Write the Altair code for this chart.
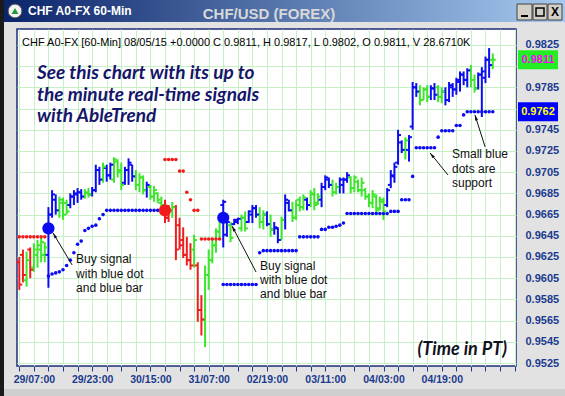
import math
import altair as alt
import pandas as pd

# ---------------------------------------------------------------
# CHF/USD hourly bars (AbleTrend colouring) with stop dots
# ---------------------------------------------------------------
BLUE = "#0c0cf2"
GREEN = "#3ce62a"
RED = "#f21c1c"
NAVY = "#1b3a8e"
GRID = "#c6f0c6"
PANEL = "#e2e2e2"
TREND_COLOURS = {"B": BLUE, "G": GREEN, "R": RED}
SIDE_COLOURS = {"buy": BLUE, "sell": RED}

bar_high = [
    0.9625, 0.9632, 0.9630, 0.9634, 0.9638, 0.9641, 0.9644, 0.9639, 0.9672, 0.9688,
    0.9684, 0.9682, 0.9681, 0.9679, 0.9685, 0.9688, 0.9690, 0.9689, 0.9689, 0.9690,
    0.9691, 0.9712, 0.9710, 0.9714, 0.9712, 0.9714, 0.9719, 0.9717, 0.9714, 0.9710,
    0.9718, 0.9712, 0.9707, 0.9704, 0.9702, 0.9696, 0.9693, 0.9692, 0.9686, 0.9682,
    0.9679, 0.9674, 0.9677, 0.9674, 0.9662, 0.9653, 0.9644, 0.9638, 0.9646, 0.9620,
    0.9589, 0.9617, 0.9632, 0.9641, 0.9652, 0.9662, 0.9679, 0.9660, 0.9658, 0.9661,
    0.9662, 0.9665, 0.9668, 0.9669, 0.9674, 0.9674, 0.9672, 0.9669, 0.9668, 0.9665,
    0.9658, 0.9653, 0.9663, 0.9684, 0.9679, 0.9677, 0.9679, 0.9682, 0.9684, 0.9681,
    0.9688, 0.9690, 0.9685, 0.9695, 0.9702, 0.9700, 0.9698, 0.9695, 0.9700, 0.9700,
    0.9705, 0.9701, 0.9702, 0.9698, 0.9700, 0.9690, 0.9685, 0.9688, 0.9684, 0.9682,
    0.9681, 0.9690, 0.9707, 0.9714, 0.9745, 0.9735, 0.9738, 0.9740, 0.9790, 0.9789,
    0.9787, 0.9785, 0.9787, 0.9787, 0.9789, 0.9787, 0.9785, 0.9785, 0.9790, 0.9789,
    0.9794, 0.9800, 0.9800, 0.9803, 0.9806, 0.9797, 0.9799, 0.9804, 0.9814, 0.9822,
    0.9817,
]
bar_low = [
    0.9594, 0.9601, 0.9597, 0.9605, 0.9611, 0.9615, 0.9620, 0.9620, 0.9596, 0.9662,
    0.9665, 0.9662, 0.9660, 0.9665, 0.9671, 0.9674, 0.9676, 0.9679, 0.9680, 0.9681,
    0.9682, 0.9686, 0.9693, 0.9695, 0.9696, 0.9698, 0.9695, 0.9700, 0.9688, 0.9693,
    0.9693, 0.9696, 0.9688, 0.9686, 0.9684, 0.9681, 0.9679, 0.9677, 0.9676, 0.9671,
    0.9657, 0.9658, 0.9662, 0.9622, 0.9632, 0.9624, 0.9617, 0.9613, 0.9615, 0.9564,
    0.9551, 0.9540, 0.9594, 0.9619, 0.9629, 0.9641, 0.9634, 0.9644, 0.9639, 0.9655,
    0.9656, 0.9649, 0.9649, 0.9657, 0.9657, 0.9662, 0.9652, 0.9651, 0.9654, 0.9644,
    0.9646, 0.9638, 0.9641, 0.9651, 0.9668, 0.9658, 0.9660, 0.9668, 0.9669, 0.9669,
    0.9672, 0.9669, 0.9674, 0.9672, 0.9688, 0.9690, 0.9682, 0.9684, 0.9685, 0.9685,
    0.9695, 0.9685, 0.9686, 0.9686, 0.9682, 0.9679, 0.9672, 0.9671, 0.9667, 0.9669,
    0.9660, 0.9672, 0.9690, 0.9695, 0.9712, 0.9723, 0.9717, 0.9715, 0.9745, 0.9776,
    0.9768, 0.9773, 0.9771, 0.9773, 0.9773, 0.9771, 0.9770, 0.9768, 0.9771, 0.9776,
    0.9778, 0.9781, 0.9787, 0.9785, 0.9785, 0.9780, 0.9783, 0.9757, 0.9789, 0.9794,
    0.9802,
]
bar_open = [
    0.9620, 0.9627, 0.9603, 0.9632, 0.9615, 0.9627, 0.9632, 0.9627, 0.9627, 0.9665,
    0.9679, 0.9669, 0.9676, 0.9676, 0.9674, 0.9682, 0.9684, 0.9686, 0.9682, 0.9685,
    0.9684, 0.9688, 0.9707, 0.9698, 0.9709, 0.9702, 0.9698, 0.9715, 0.9707, 0.9695,
    0.9707, 0.9712, 0.9701, 0.9693, 0.9700, 0.9688, 0.9691, 0.9682, 0.9685, 0.9676,
    0.9674, 0.9662, 0.9669, 0.9672, 0.9655, 0.9641, 0.9627, 0.9622, 0.9632, 0.9617,
    0.9575, 0.9566, 0.9608, 0.9622, 0.9636, 0.9649, 0.9674, 0.9646, 0.9655, 0.9656,
    0.9658, 0.9652, 0.9662, 0.9658, 0.9665, 0.9671, 0.9665, 0.9658, 0.9665, 0.9656,
    0.9651, 0.9652, 0.9641, 0.9660, 0.9676, 0.9669, 0.9662, 0.9679, 0.9672, 0.9679,
    0.9674, 0.9684, 0.9676, 0.9679, 0.9691, 0.9698, 0.9693, 0.9686, 0.9691, 0.9693,
    0.9698, 0.9700, 0.9690, 0.9696, 0.9688, 0.9688, 0.9682, 0.9676, 0.9682, 0.9671,
    0.9677, 0.9674, 0.9693, 0.9701, 0.9714, 0.9733, 0.9726, 0.9726, 0.9748, 0.9785,
    0.9781, 0.9773, 0.9783, 0.9776, 0.9784, 0.9785, 0.9776, 0.9781, 0.9773, 0.9785,
    0.9783, 0.9790, 0.9797, 0.9792, 0.9801, 0.9792, 0.9784, 0.9797, 0.9794, 0.9811,
    0.9811,
]
bar_close = [
    0.9599, 0.9608, 0.9622, 0.9613, 0.9632, 0.9636, 0.9639, 0.9634, 0.9665, 0.9684,
    0.9669, 0.9679, 0.9665, 0.9668, 0.9682, 0.9685, 0.9686, 0.9682, 0.9686, 0.9684,
    0.9688, 0.9707, 0.9698, 0.9710, 0.9702, 0.9712, 0.9717, 0.9705, 0.9693, 0.9707,
    0.9714, 0.9701, 0.9693, 0.9700, 0.9688, 0.9693, 0.9682, 0.9688, 0.9679, 0.9674,
    0.9662, 0.9669, 0.9672, 0.9632, 0.9636, 0.9627, 0.9622, 0.9617, 0.9641, 0.9575,
    0.9566, 0.9608, 0.9622, 0.9636, 0.9649, 0.9658, 0.9677, 0.9658, 0.9643, 0.9660,
    0.9661, 0.9662, 0.9652, 0.9668, 0.9671, 0.9665, 0.9658, 0.9665, 0.9656, 0.9651,
    0.9653, 0.9641, 0.9660, 0.9679, 0.9669, 0.9662, 0.9674, 0.9672, 0.9681, 0.9674,
    0.9685, 0.9674, 0.9682, 0.9691, 0.9700, 0.9693, 0.9686, 0.9691, 0.9698, 0.9698,
    0.9702, 0.9690, 0.9700, 0.9688, 0.9695, 0.9682, 0.9676, 0.9684, 0.9669, 0.9679,
    0.9668, 0.9688, 0.9702, 0.9710, 0.9740, 0.9726, 0.9735, 0.9738, 0.9785, 0.9781,
    0.9773, 0.9783, 0.9776, 0.9784, 0.9778, 0.9776, 0.9781, 0.9773, 0.9787, 0.9783,
    0.9792, 0.9797, 0.9792, 0.9801, 0.9792, 0.9784, 0.9797, 0.9800, 0.9811, 0.9806,
    0.9811,
]
# B = uptrend (blue), G = neutral (green), R = downtrend (red)
bar_trend = list(
    "RRGRGGGGBB" "BGGGBBBBGG" "BBBGBBGGGB" "BBGGGBGGGG" "RRGRRRRRGR"
    "RGGGGGBBGB" "BGGBBBGGBG" "BBGBBGGGGB" "GGGBBBGGBB" "BGGGGGGGGG"
    "GBBBBBGBBB" "GGGBBGGBBB" "BBBBGGBBBB" "G"
)
# trailing stop (support below / resistance above)
stop_level = [
    0.9644, 0.9644, 0.9644, 0.9644, 0.9644, 0.9644, 0.9644, 0.9644, 0.9607, 0.9609,
    0.9610, 0.9611, 0.9613, 0.9617, 0.9622, 0.9629, 0.9637, 0.9640, 0.9650, 0.9652,
    0.9654, 0.9655, 0.9661, 0.9665, 0.9669, 0.9669, 0.9669, 0.9669, 0.9669, 0.9669,
    0.9669, 0.9669, 0.9669, 0.9669, 0.9669, 0.9669, 0.9669, 0.9669, 0.9669, 0.9669,
    0.9717, 0.9717, 0.9717, 0.9717, 0.9706, 0.9706, 0.9686, 0.9679, 0.9669, 0.9669,
    0.9642, 0.9642, 0.9642, 0.9642, 0.9642, 0.9642, 0.9599, 0.9599, 0.9599, 0.9599,
    0.9599, 0.9599, 0.9599, 0.9599, 0.9599, 0.9599, 0.9629, 0.9631, 0.9631, 0.9631,
    0.9631, 0.9631, 0.9631, 0.9631, 0.9631, 0.9631, 0.9631, 0.9644, 0.9644, 0.9644,
    0.9644, 0.9644, 0.9644, 0.9651, 0.9651, 0.9653, 0.9653, 0.9654, 0.9655, 0.9657,
    0.9666, 0.9666, 0.9666, 0.9666, 0.9666, 0.9666, 0.9666, 0.9666, 0.9666, 0.9666,
    0.9666, 0.9666, 0.9668, 0.9668, 0.9668, 0.9679, 0.9679, 0.9679, 0.9701, 0.9728,
    0.9728, 0.9728, 0.9728, 0.9728, 0.9728, 0.9738, 0.9744, 0.9744, 0.9744, 0.9744,
    0.9749, 0.9749, 0.9759, 0.9762, 0.9762, 0.9762, 0.9762, 0.9762, 0.9762, 0.9762,
    0.9762,
]

signal_bar = [8, 40, 56]
signal_price = [0.9652, 0.9669, 0.9662]
signal_side = ["buy", "sell", "buy"]

tick_label_bars = [4, 20, 36, 52, 68, 84, 100, 116]
tick_labels = ["29/07:00", "29/23:00", "30/15:00", "31/07:00",
               "02/19:00", "03/11:00", "04/03:00", "04/19:00"]
price_ticks = [0.9525, 0.9545, 0.9565, 0.9585, 0.9605, 0.9625, 0.9645, 0.9665,
               0.9685, 0.9705, 0.9725, 0.9745, 0.9765, 0.9785, 0.9805, 0.9825]

note_text = ["Buy signal", "with blue dot", "and blue bar",
             "Buy signal", "with blue dot", "and blue bar",
             "Small blue", "dots are", "support"]
note_bar = [15.6, 15.6, 15.6, 66.1, 66.1, 66.1, 118.8, 118.8, 118.8]
note_price = [0.96232, 0.96091, 0.95959, 0.96166, 0.96034, 0.95902,
              0.97222, 0.97080, 0.96948]

arrow_tail_bar = [14.5, 65.0, 117.7, 127.9]
arrow_tail_price = [0.96175, 0.96109, 0.97024, 0.97288]
arrow_head_bar = [9.25, 58.4, 112.8, 125.1]
arrow_head_price = [0.96477, 0.96543, 0.97231, 0.97590]

promo_lines = ["See this chart with its up to", "the minute real-time signals", "with AbleTrend"]

# ---------------------------------------------------------------
# layout
# ---------------------------------------------------------------
W, H = 499, 337
PAD_L, PAD_T, PAD_R, PAD_B = 17, 29, 49, 30
X_DOMAIN = [-0.63, 136.38]
Y_DOMAIN = [0.95222, 0.98400]
PX_BAR = W / (X_DOMAIN[1] - X_DOMAIN[0])
PX_PRICE = H / (Y_DOMAIN[1] - Y_DOMAIN[0])

x_scale = alt.Scale(domain=X_DOMAIN, nice=False, zero=False)
y_scale = alt.Scale(domain=Y_DOMAIN, nice=False, zero=False)

# price tags on the right edge: last close and current stop
tag_values = [bar_close[-1], stop_level[-1]]

label_expr = " : ".join(
    f"datum.value == {b} ? '{t}'" for b, t in zip(tick_label_bars, tick_labels)
) + " : ''"

# axis labels sitting under a price tag are covered by it
covered = [p for p in price_ticks if any(abs(p - v) < 0.001 for v in tag_values)]
y_label_expr = "".join(
    f"abs(datum.value - {p}) < 0.00001 ? '' : " for p in covered
) + "format(datum.value, '.4f')"

x_axis = alt.Axis(
    values=list(range(0, 137, 4)), labelExpr=label_expr, title=None,
    grid=True, gridColor=GRID, gridWidth=1, domain=False,
    ticks=True, tickSize=5, tickColor=NAVY, tickWidth=1,
    labelFont="Liberation Sans", labelFontWeight="bold", labelFontSize=10.5,
    labelColor=NAVY, labelPadding=3, labelOverlap=False, labelFlush=False,
)
y_axis = alt.Axis(
    orient="right", values=price_ticks, labelExpr=y_label_expr, title=None,
    grid=True, gridColor=GRID, gridWidth=1, domain=False, ticks=False,
    labelFont="Liberation Sans", labelFontWeight="bold", labelFontSize=11,
    labelColor=NAVY, labelPadding=9, labelOverlap=False,
)


def X(field):
    return alt.X(f"{field}:Q", scale=x_scale, axis=x_axis)


def Y(field):
    return alt.Y(f"{field}:Q", scale=y_scale, axis=y_axis)


# ---------------------------------------------------------------
# tables
# ---------------------------------------------------------------
n = len(bar_high)
side_of_bar = []
current = "sell"
signal_lookup = dict(zip(signal_bar, signal_side))
for b in range(n):
    current = signal_lookup.get(b, current)
    side_of_bar.append(current)

bars = pd.DataFrame({
    "bar": list(range(n)),
    "high": bar_high, "low": bar_low, "open": bar_open, "close": bar_close,
    "stop": stop_level,
    "colour": [TREND_COLOURS[t] for t in bar_trend],
    "stop_colour": [SIDE_COLOURS[s] for s in side_of_bar],
})
bars["open_x"] = bars["bar"] - 0.8
bars["close_x"] = bars["bar"] + 0.8

signals = pd.DataFrame({
    "bar": signal_bar, "price": signal_price,
    "colour": [SIDE_COLOURS[s] for s in signal_side],
})

notes = pd.DataFrame({"bar": note_bar, "price": note_price, "text": note_text})

arrows = pd.DataFrame({
    "tx": arrow_tail_bar, "ty": arrow_tail_price,
    "hx": arrow_head_bar, "hy": arrow_head_price,
})
arrows["angle"] = [
    math.degrees(math.atan2((hx - tx) * PX_BAR, (hy - ty) * PX_PRICE)) % 360
    for tx, ty, hx, hy in zip(arrows.tx, arrows.ty, arrows.hx, arrows.hy)
]

tags = pd.DataFrame({
    "value": tag_values,
    "bg": ["#22ee22", "#0000ff"],
    "fg": ["#ff00ff", "#ffff00"],
})
tags["lo"] = tags["value"] - 0.0009
tags["hi"] = tags["value"] + 0.0009

one = pd.DataFrame({"k": [0]})

# ---------------------------------------------------------------
# plot layers
# ---------------------------------------------------------------
stops_layer = alt.Chart(bars).mark_circle(size=13, opacity=1).encode(
    x=X("bar"), y=Y("stop"), color=alt.Color("stop_colour:N", scale=None))

range_layer = alt.Chart(bars).mark_rule(strokeWidth=2).encode(
    x=X("bar"), y=Y("low"), y2="high",
    color=alt.Color("colour:N", scale=None))

open_layer = alt.Chart(bars).mark_rule(strokeWidth=2).encode(
    x=X("open_x"), x2="bar", y=Y("open"),
    color=alt.Color("colour:N", scale=None))

close_layer = alt.Chart(bars).mark_rule(strokeWidth=2).encode(
    x=X("bar"), x2="close_x", y=Y("close"),
    color=alt.Color("colour:N", scale=None))

signal_layer = alt.Chart(signals).mark_circle(size=150, opacity=1).encode(
    x=X("bar"), y=Y("price"), color=alt.Color("colour:N", scale=None))

arrow_lines = alt.Chart(arrows).mark_rule(color="#111111", strokeWidth=1).encode(
    x=X("tx"), y=Y("ty"), x2="hx", y2="hy")

arrow_heads = alt.Chart(arrows).mark_point(
    shape="M0,0L0.45,1.7L-0.45,1.7Z", size=45, filled=True, opacity=1,
    color="#111111").encode(x=X("hx"), y=Y("hy"), angle=alt.Angle("angle:Q", scale=None))

note_layer = alt.Chart(notes).mark_text(
    align="left", baseline="middle", font="Liberation Sans", fontSize=12,
    color="#111111").encode(x=X("bar"), y=Y("price"), text="text:N")

tag_rects = alt.Chart(tags).mark_rect().encode(
    x=alt.value(501), x2=alt.value(541), y=Y("lo"), y2="hi",
    fill=alt.Color("bg:N", scale=None))
tag_text = alt.Chart(tags).mark_text(
    font="Liberation Sans", fontWeight="bold", fontSize=11, align="center",
    baseline="middle").encode(
    x=alt.value(521), y=Y("value"), text=alt.Text("value:Q", format=".4f"),
    color=alt.Color("fg:N", scale=None))


def text_at(txt, px, py, **style):
    return alt.Chart(one).mark_text(text=txt, **style).encode(
        x=alt.value(px), y=alt.value(py))


def rect_at(px, px2, py, py2, **style):
    return alt.Chart(one).mark_rect(**style).encode(
        x=alt.value(px), x2=alt.value(px2), y=alt.value(py), y2=alt.value(py2))


info_layer = text_at(
    "CHF A0-FX [60-Min] 08/05/15  +0.0000 C 0.9811, H 0.9817, L 0.9802, O 0.9811, V 28.6710K",
    5, 14, align="left", baseline="middle", font="Liberation Sans", fontSize=11,
    color="#000000")

promo_style = dict(align="left", baseline="middle", font="Lato", fontStyle="italic",
                   fontWeight="bold", fontSize=19, color="#15156a")
promo_layers = [text_at(t, 20, py, **promo_style)
                for t, py in zip(promo_lines, [44, 66, 87])]

tz_layer = text_at("(Time in PT)", 490, 321, align="right", baseline="middle",
                   font="Lato", fontStyle="italic", fontWeight="bold", fontSize=18,
                   color="#111122")

# ---------------------------------------------------------------
# window chrome around the plot
# ---------------------------------------------------------------
title_bar = rect_at(-13, 548, -29, -7, fill={
    "gradient": "linear", "x1": 0, "x2": 1, "y1": 0, "y2": 0,
    "stops": [{"offset": 0, "color": "#0a246a"}, {"offset": 1, "color": "#a6caf0"}]})
left_edge = rect_at(-17, -13, -29, 367, color="#1a1a1a")
bottom_strip = rect_at(-13, 548, 360, 367, color="#cfcfcf")

icon_bg = alt.Chart(one).mark_circle(size=190, color="#f2f2f2", opacity=1,
                                     stroke="#555555", strokeWidth=1).encode(
    x=alt.value(-2), y=alt.value(-18))
icon_tri = alt.Chart(one).mark_point(shape="triangle-up", size=45, filled=True,
                                     color="#1f9a3c", opacity=1).encode(
    x=alt.value(-2), y=alt.value(-18))

title_left = text_at("CHF A0-FX 60-Min", 11, -18, align="left", baseline="middle",
                     font="Liberation Sans", fontWeight="bold", fontSize=12, color="white")
title_mid = text_at("CHF/USD (FOREX)", 252, -15, align="center", baseline="middle",
                    font="Liberation Sans", fontWeight="bold", fontSize=15, color="#d8d8d8")

button_style = dict(color="#d4d0c8", stroke="#404040", strokeWidth=1)
buttons = [rect_at(500, 515, -25, -9, **button_style),
           rect_at(516, 530, -25, -9, **button_style),
           rect_at(531, 545, -25, -9, **button_style)]
button_min = rect_at(504, 511, -14, -12, color="#000000")
button_box = rect_at(519, 527, -21, -13, fill="none", stroke="#000000", strokeWidth=1.5)
button_x = text_at("X", 538, -17, font="Liberation Sans", fontWeight="bold",
                   fontSize=12, color="#000000", align="center", baseline="middle")

chart = alt.layer(
    range_layer, stops_layer, open_layer, close_layer, signal_layer,
    arrow_lines, arrow_heads, note_layer, info_layer, *promo_layers, tz_layer,
    tag_rects, tag_text,
    left_edge, bottom_strip, title_bar, icon_bg, icon_tri, title_left, title_mid,
    *buttons, button_min, button_box, button_x,
).properties(
    width=W, height=H, background=PANEL,
    padding={"left": PAD_L, "top": PAD_T, "right": PAD_R, "bottom": PAD_B},
    autosize=alt.AutoSizeParams(type="none"),
).configure_view(
    fill="white", stroke="#1b2d78", strokeWidth=1.5,
)

chart.save("out.html", embed_options={"renderer": "svg", "actions": False})
